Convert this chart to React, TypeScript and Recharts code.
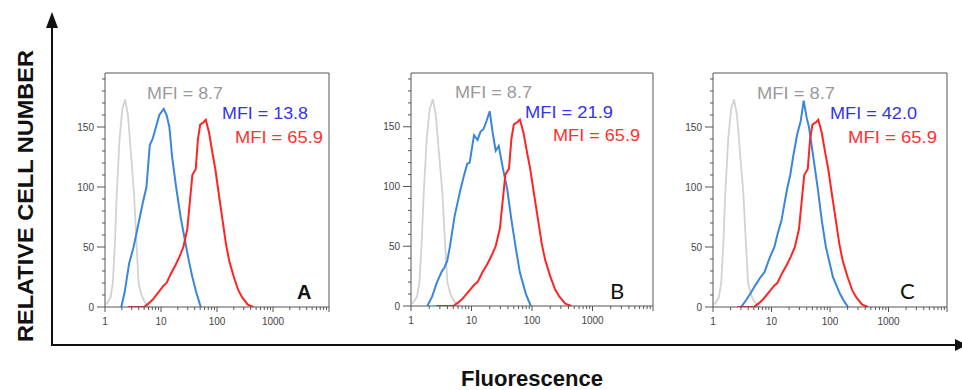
import React from 'react';
import { LineChart, Line, XAxis, YAxis, ReferenceLine } from 'recharts';

type Pt = { x: number; y: number };
const toPts = (a: number[][]): Pt[] => a.map(([x, y]) => ({ x, y }));

// Isotype control (grey), same in every panel
const isotype = toPts([
  [1.05, 2], [1.12, 4], [1.26, 8], [1.38, 20], [1.51, 55], [1.62, 94], [1.82, 140],
  [2.04, 165], [2.29, 173], [2.57, 160], [2.88, 130], [3.31, 94], [3.63, 55],
  [3.98, 20], [4.47, 10], [5.01, 5], [5.75, 1], [6.31, 0],
]);

// Reference (red), MFI 65.9, same in every panel
const reference = toPts([
  [2.6, 0], [5.01, 0], [6.03, 3], [7.08, 6], [8.91, 12], [11.2, 18], [12.6, 20], [15.1, 28],
  [18.2, 35], [21.4, 42], [25.1, 50], [29.5, 65], [33.1, 90], [36.3, 110], [41.7, 115],
  [45.7, 140], [50.1, 152], [57.5, 154], [63.1, 156], [72.4, 145], [83.2, 128],
  [93.3, 115], [107, 95], [126, 72], [145, 52], [166, 38], [200, 25], [240, 14],
  [282, 8], [355, 2], [447, 0],
]);

// Sample (blue) per panel
const sampleA = toPts([
  [1.95, 0], [2.24, 12], [2.69, 36], [3.24, 50], [3.98, 70], [4.79, 88], [5.5, 100],
  [6.31, 135], [7.08, 140], [8.13, 150], [9.33, 160], [11.2, 165], [12.6, 160],
  [14.1, 150], [15.8, 125], [18.6, 100], [22.4, 75], [26.9, 55], [31.6, 38],
  [36.3, 25], [42.7, 12], [51.3, 0],
]);
const sampleB = toPts([
  [1.86, 0], [2.24, 8], [2.69, 20], [3.24, 29], [3.55, 32], [3.98, 38], [4.37, 49],
  [5.25, 75], [6.61, 98], [7.59, 110], [8.51, 119], [9.33, 120], [11.0, 143],
  [12.6, 139], [14.1, 146], [15.8, 148], [17.8, 155], [20.0, 163], [22.4, 145],
  [25.1, 130], [28.2, 134], [33.1, 115], [38.9, 98], [45.7, 72], [53.7, 49],
  [63.1, 28], [79.4, 10], [95.5, 0],
]);
const sampleC = toPts([
  [3.02, 0], [3.72, 6], [4.47, 12], [5.13, 17], [6.31, 24], [7.59, 29], [9.12, 40],
  [11.2, 50], [12.9, 62], [14.8, 72], [16.6, 86], [18.6, 99], [20.9, 110], [23.4, 125],
  [27.5, 144], [31.6, 155], [35.5, 172], [39.8, 158], [43.7, 150], [50.1, 130],
  [61.7, 99], [72.4, 72], [85.1, 50], [112, 25], [148, 11], [178, 4], [204, 0],
]);
const samples = [sampleA, sampleB, sampleC];

const panelLetters = ['A', 'B', 'C'];
const grayLabel = 'MFI = 8.7';
const blueLabels = ['MFI = 13.8', 'MFI = 21.9', 'MFI = 42.0'];
const redLabel = 'MFI = 65.9';
const yTitle = 'RELATIVE CELL NUMBER';
const xTitle = 'Fluorescence';

const X_TICKS = [
  1, 2, 3, 4, 5, 6, 7, 8, 9,
  10, 20, 30, 40, 50, 60, 70, 80, 90,
  100, 200, 300, 400, 500, 600, 700, 800, 900,
  1000, 2000, 3000, 4000, 5000, 6000, 7000, 8000, 9000, 10000,
];
const X_LABELS = [1, 10, 100, 1000];
const Y_TICKS = [0, 10, 20, 30, 40, 50, 60, 70, 80, 90, 100, 110, 120, 130, 140, 150, 160, 170, 180, 190];
const Y_LABELS = [0, 50, 100, 150];
const X_MAX = 10000;
const Y_MAX = 195;

const FONT = '"Liberation Sans", Arial, sans-serif';

const PANELS = [
  { L: 105, R: 329, T: 73, B: 307,
    gray: [147, 99, 76], blue: [222, 119, 86], red: [235, 143, 88], letter: [297, 299] },
  { L: 411, R: 653, T: 73, B: 306,
    gray: [455, 98, 77], blue: [525, 118, 88], red: [553, 141, 87], letter: [610, 299] },
  { L: 713, R: 947, T: 73, B: 307,
    gray: [757, 99, 78], blue: [830, 119, 87], red: [848, 143, 89], letter: [900, 299] },
];

const XTick = (props: any) => {
  const { x, y, payload } = props;
  const v = payload.value;
  const major = X_LABELS.includes(v) || v === X_MAX;
  return (
    <g>
      <line x1={x} x2={x} y1={y} y2={y + (major ? 5 : 3)} stroke="#555" strokeWidth={1} />
      {X_LABELS.includes(v) && (
        <text x={x} y={y + 18} textAnchor="middle" fontSize={10} fill="#444" fontFamily={FONT}>
          {v}
        </text>
      )}
    </g>
  );
};

const YTick = (props: any) => {
  const { x, y, payload } = props;
  const v = payload.value;
  const major = Y_LABELS.includes(v);
  return (
    <g>
      <line x1={x - (major ? 8 : 3)} x2={x} y1={y} y2={y} stroke="#555" strokeWidth={1} />
      {major && (
        <text x={x - 11} y={y + 3.5} textAnchor="end" fontSize={10} fill="#444" fontFamily={FONT}>
          {v}
        </text>
      )}
    </g>
  );
};

const YW = 40;
const XH = 26;
const MT = 2;
const MR = 2;

function Panel({ idx }: { idx: number }) {
  const p = PANELS[idx];
  const w = p.R - p.L + YW + MR;
  const h = p.B - p.T + MT + XH;
  return (
    <div style={{ position: 'absolute', left: p.L - YW, top: p.T - MT, width: w, height: h }}>
      <LineChart width={w} height={h} margin={{ top: MT, right: MR, bottom: 0, left: 0 }}>
        <XAxis
          type="number"
          dataKey="x"
          scale="log"
          domain={[1, X_MAX]}
          allowDataOverflow
          ticks={X_TICKS}
          interval={0}
          tick={<XTick />}
          tickLine={false}
          tickSize={0}
          tickMargin={0}
          height={XH}
          axisLine={{ stroke: '#555', strokeWidth: 1 }}
        />
        <YAxis
          type="number"
          dataKey="y"
          domain={[0, Y_MAX]}
          allowDataOverflow
          ticks={Y_TICKS}
          interval={0}
          tick={<YTick />}
          tickLine={false}
          tickSize={0}
          tickMargin={0}
          width={YW}
          axisLine={{ stroke: '#555', strokeWidth: 1 }}
        />
        <ReferenceLine y={Y_MAX} stroke="#555" strokeWidth={1} />
        <ReferenceLine x={X_MAX} stroke="#555" strokeWidth={1} />
        <Line data={isotype} dataKey="y" type="linear" stroke="#d2d2d2" strokeWidth={1.8}
          dot={false} isAnimationActive={false} />
        <Line data={samples[idx]} dataKey="y" type="linear" stroke="#3a86dc" strokeWidth={2}
          dot={false} isAnimationActive={false} />
        <Line data={reference} dataKey="y" type="linear" stroke="#ff2424" strokeWidth={2}
          dot={false} isAnimationActive={false} />
      </LineChart>
    </div>
  );
}

export default function App() {
  return (
    <div style={{ position: 'absolute', left: 0, top: 0, width: 962, height: 390, background: '#fff', overflow: 'hidden' }}>
      {PANELS.map((_, i) => (
        <Panel key={i} idx={i} />
      ))}
      <svg width={962} height={390} style={{ position: 'absolute', left: 0, top: 0, pointerEvents: 'none' }}>
        <line x1={52} y1={24} x2={52} y2={346} stroke="#111" strokeWidth={2} />
        <polygon points="52,12 46,28 58,28" fill="#111" />
        <line x1={51} y1={345} x2={958} y2={345} stroke="#111" strokeWidth={2} />
        <polygon points="967,345 955,339 955,351" fill="#111" />
        <text
          x={25}
          y={196}
          transform="rotate(-90 25 196)"
          textAnchor="middle"
          dominantBaseline="central"
          fontFamily={FONT}
          fontWeight="bold"
          fontSize={22}
          textLength={292}
          lengthAdjust="spacingAndGlyphs"
          fill="#111"
        >
          {yTitle}
        </text>
        <text x={532} y={386} textAnchor="middle" fontFamily={FONT} fontWeight="bold" fontSize={22}
          textLength={142} lengthAdjust="spacingAndGlyphs" fill="#111">
          {xTitle}
        </text>
        {PANELS.map((p, i) => (
          <g key={i}>
            <text x={p.gray[0]} y={p.gray[1]} fontFamily={FONT} fontSize={17} fill="#9a9a9a"
              textLength={p.gray[2]} lengthAdjust="spacingAndGlyphs">{grayLabel}</text>
            <text x={p.blue[0]} y={p.blue[1]} fontFamily={FONT} fontSize={17} fill="#3333ee"
              textLength={p.blue[2]} lengthAdjust="spacingAndGlyphs">{blueLabels[i]}</text>
            <text x={p.red[0]} y={p.red[1]} fontFamily={FONT} fontSize={17} fill="#ff3030"
              textLength={p.red[2]} lengthAdjust="spacingAndGlyphs">{redLabel}</text>
            <text x={p.letter[0]} y={p.letter[1]} fontFamily={i === 0 ? FONT : 'Lato, "Open Sans", sans-serif'}
              fontWeight={i === 0 ? 'bold' : 'normal'} fontSize={i === 0 ? 20 : 22} fill="#111">
              {panelLetters[i]}
            </text>
          </g>
        ))}
      </svg>
    </div>
  );
}
